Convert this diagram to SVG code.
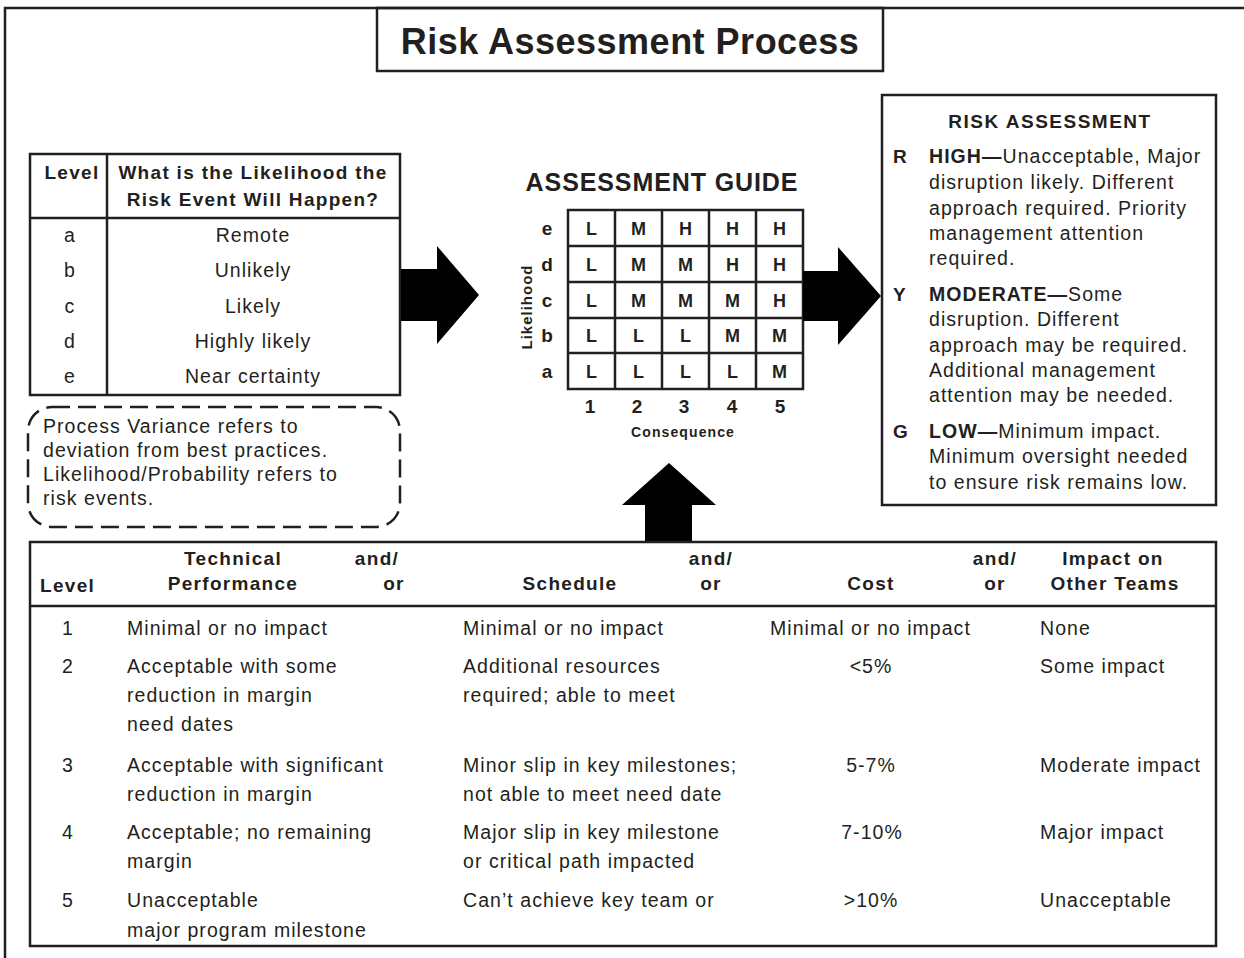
<svg xmlns="http://www.w3.org/2000/svg" width="1244" height="958" viewBox="0 0 1244 958">
<style>
text{font-family:"Liberation Sans",Arial,sans-serif;fill:#231f20;}
.t{font-size:19.5px;letter-spacing:1.05px;}
.b{font-size:19px;font-weight:bold;letter-spacing:1.3px;}
.c{text-anchor:middle;}
.ln{stroke:#231f20;stroke-width:2.5;fill:none;}
.cell{font-size:18px;font-weight:bold;text-anchor:middle;}
.arrow{fill:#000;}
</style>
<rect x="0" y="0" width="1244" height="958" fill="#fff"/>
<g id="frame">
<path class="ln" d="M5 958 V8 H1244" stroke-width="3"/>
</g>
<g id="title">
<rect class="ln" x="377" y="8" width="506" height="63"/>
<text x="630" y="54" class="c" style="font-size:36px;font-weight:bold;letter-spacing:0.5px">Risk Assessment Process</text>
</g>
<g id="likelihood-table">
<rect class="ln" x="30" y="154" width="370" height="241"/>
<line class="ln" x1="107" y1="154" x2="107" y2="395"/>
<line class="ln" x1="30" y1="218" x2="400" y2="218"/>
<text class="b c" x="72" y="179">Level</text>
<text class="b c" x="253" y="179">What is the Likelihood the</text>
<text class="b c" x="253" y="206">Risk Event Will Happen?</text>
<text class="t c" x="70" y="242">a</text><text class="t c" x="253" y="242">Remote</text>
<text class="t c" x="70" y="277">b</text><text class="t c" x="253" y="277">Unlikely</text>
<text class="t c" x="70" y="313">c</text><text class="t c" x="253" y="313">Likely</text>
<text class="t c" x="70" y="348">d</text><text class="t c" x="253" y="348">Highly likely</text>
<text class="t c" x="70" y="383">e</text><text class="t c" x="253" y="383">Near certainty</text>
</g>
<g id="note">
<rect x="28" y="407" width="372" height="120" rx="24" ry="24" fill="none" stroke="#231f20" stroke-width="2.5" stroke-dasharray="18 8"/>
<text class="t" x="43" y="433">Process Variance refers to</text>
<text class="t" x="43" y="457">deviation from best practices.</text>
<text class="t" x="43" y="481">Likelihood/Probability refers to</text>
<text class="t" x="43" y="505">risk events.</text>
</g>
<g id="assessment-guide">
<text x="662" y="191" class="c" style="font-size:25px;font-weight:bold;letter-spacing:0.9px">ASSESSMENT GUIDE</text>
<rect class="ln" x="568" y="210" width="235" height="179"/>
<path class="ln" d="M615 210V389M662 210V389M709 210V389M756 210V389M568 246H803M568 282H803M568 318H803M568 353H803"/>
<g class="cell">
<text x="591.5" y="234.5">L</text><text x="638.5" y="234.5">M</text><text x="685.5" y="234.5">H</text><text x="732.5" y="234.5">H</text><text x="779.5" y="234.5">H</text>
<text x="591.5" y="270.5">L</text><text x="638.5" y="270.5">M</text><text x="685.5" y="270.5">M</text><text x="732.5" y="270.5">H</text><text x="779.5" y="270.5">H</text>
<text x="591.5" y="306.5">L</text><text x="638.5" y="306.5">M</text><text x="685.5" y="306.5">M</text><text x="732.5" y="306.5">M</text><text x="779.5" y="306.5">H</text>
<text x="591.5" y="342">L</text><text x="638.5" y="342">L</text><text x="685.5" y="342">L</text><text x="732.5" y="342">M</text><text x="779.5" y="342">M</text>
<text x="591.5" y="377.5">L</text><text x="638.5" y="377.5">L</text><text x="685.5" y="377.5">L</text><text x="732.5" y="377.5">L</text><text x="779.5" y="377.5">M</text>
</g>
<g style="font-size:19px;font-weight:bold;text-anchor:middle">
<text x="547" y="235">e</text><text x="547" y="271">d</text><text x="547" y="307">c</text><text x="547" y="342">b</text><text x="547" y="378">a</text>
<text x="590" y="413">1</text><text x="637" y="413">2</text><text x="684" y="413">3</text><text x="732" y="413">4</text><text x="780" y="413">5</text>
</g>
<text x="683" y="437" class="c" style="font-size:14px;font-weight:bold;letter-spacing:1.1px">Consequence</text>
<text transform="translate(532 307) rotate(-90)" class="c" style="font-size:15px;font-weight:bold;letter-spacing:1px">Likelihood</text>
</g>
<g id="risk-assessment">
<rect class="ln" x="882" y="95" width="334" height="410"/>
<text x="1050" y="128" class="c" style="font-size:19px;font-weight:bold;letter-spacing:1.5px">RISK ASSESSMENT</text>
<text class="b" x="893" y="163">R</text>
<text class="t" x="929" y="163"><tspan style="font-weight:bold">HIGH—</tspan>Unacceptable, Major</text>
<text class="t" x="929" y="189">disruption likely. Different</text>
<text class="t" x="929" y="215">approach required. Priority</text>
<text class="t" x="929" y="240">management attention</text>
<text class="t" x="929" y="265">required.</text>
<text class="b" x="893" y="301">Y</text>
<text class="t" x="929" y="301"><tspan style="font-weight:bold">MODERATE—</tspan>Some</text>
<text class="t" x="929" y="326">disruption. Different</text>
<text class="t" x="929" y="352">approach may be required.</text>
<text class="t" x="929" y="377">Additional management</text>
<text class="t" x="929" y="402">attention may be needed.</text>
<text class="b" x="893" y="438">G</text>
<text class="t" x="929" y="438"><tspan style="font-weight:bold">LOW—</tspan>Minimum impact.</text>
<text class="t" x="929" y="463">Minimum oversight needed</text>
<text class="t" x="929" y="489">to ensure risk remains low.</text>
</g>
<g id="connectors">
<polygon class="arrow" points="401,269 437,269 437,246 479,295 437,344 437,321 401,321"/>
<polygon class="arrow" points="803,271 838,271 838,247 881,296 838,345 838,321 803,321"/>
<polygon class="arrow" points="645,542 645,505 622,505 669,463 716,505 692,505 692,542"/>
</g>
<g id="impact-table">
<rect class="ln" x="30" y="542" width="1186" height="404"/>
<line class="ln" x1="30" y1="606" x2="1216" y2="606"/>
<g class="b">
<text x="40" y="592">Level</text>
<text class="c" x="233" y="565">Technical</text>
<text class="c" x="233" y="590">Performance</text>
<text class="c" x="377" y="565">and/</text>
<text class="c" x="394" y="590">or</text>
<text class="c" x="570" y="590">Schedule</text>
<text class="c" x="711" y="565">and/</text>
<text class="c" x="711" y="590">or</text>
<text class="c" x="871" y="590">Cost</text>
<text class="c" x="995" y="565">and/</text>
<text class="c" x="995" y="590">or</text>
<text class="c" x="1113" y="565">Impact on</text>
<text class="c" x="1115" y="590">Other Teams</text>
</g>
<g class="t">
<text class="c" x="68" y="635">1</text>
<text x="127" y="635">Minimal or no impact</text>
<text x="463" y="635">Minimal or no impact</text>
<text x="770" y="635">Minimal or no impact</text>
<text x="1040" y="635">None</text>
<text class="c" x="68" y="673">2</text>
<text x="127" y="673">Acceptable with some</text>
<text x="127" y="702">reduction in margin</text>
<text x="127" y="731">need dates</text>
<text x="463" y="673">Additional resources</text>
<text x="463" y="702">required; able to meet</text>
<text class="c" x="871" y="673">&lt;5%</text>
<text x="1040" y="673">Some impact</text>
<text class="c" x="68" y="772">3</text>
<text x="127" y="772">Acceptable with significant</text>
<text x="127" y="801">reduction in margin</text>
<text x="463" y="772">Minor slip in key milestones;</text>
<text x="463" y="801">not able to meet need date</text>
<text class="c" x="871" y="772">5-7%</text>
<text x="1040" y="772">Moderate impact</text>
<text class="c" x="68" y="839">4</text>
<text x="127" y="839">Acceptable; no remaining</text>
<text x="127" y="868">margin</text>
<text x="463" y="839">Major slip in key milestone</text>
<text x="463" y="868">or critical path impacted</text>
<text class="c" x="872" y="839">7-10%</text>
<text x="1040" y="839">Major impact</text>
<text class="c" x="68" y="907">5</text>
<text x="127" y="907">Unacceptable</text>
<text x="127" y="937">major program milestone</text>
<text x="463" y="907">Can’t achieve key team or</text>
<text class="c" x="871" y="907">&gt;10%</text>
<text x="1040" y="907">Unacceptable</text>
</g>
</g>
</svg>
